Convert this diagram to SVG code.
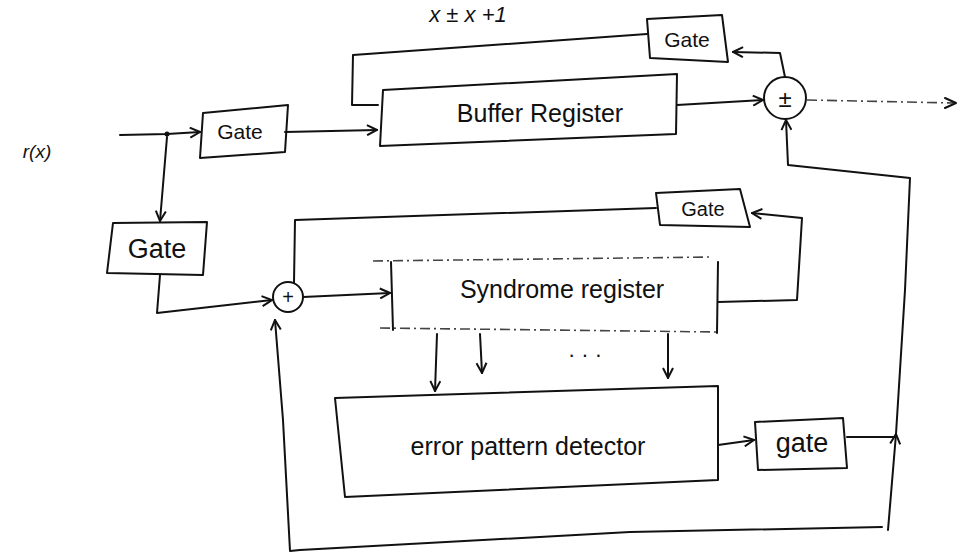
<svg xmlns="http://www.w3.org/2000/svg" width="962" height="554" viewBox="0 0 962 554">
<style>
.box{fill:none;stroke:#111;stroke-width:2;stroke-linejoin:round}
.ln{fill:none;stroke:#111;stroke-width:2;stroke-linecap:round;stroke-linejoin:round}
.faint{fill:none;stroke:#444;stroke-width:1.6;stroke-dasharray:10 4 2 4}
.t{font-family:"Liberation Sans",Arial,sans-serif;fill:#111;text-anchor:middle}
</style>
<defs>
<marker id="ah" viewBox="0 0 12 12" refX="11" refY="6" markerWidth="12" markerHeight="12" markerUnits="userSpaceOnUse" orient="auto">
<path d="M1,1 L11,6 L1,11" fill="none" stroke="#111" stroke-width="2"/>
</marker>
</defs>
<rect width="962" height="554" fill="#fff"/>
<g id="labels">
<text class="t" x="468" y="22" font-size="22" font-style="italic">x ± x +1</text>
<text class="t" x="37" y="158" font-size="19" font-style="italic">r(x)</text>
</g>
<g id="gate1">
<polygon class="box" points="203,113 288,105 285,152 200,158"/>
<text class="t" x="240" y="139" font-size="21">Gate</text>
</g>
<g id="buffer">
<polygon class="box" points="383,90 677,74 676,134 380,146"/>
<text class="t" x="540" y="122" font-size="25">Buffer Register</text>
</g>
<g id="gate2">
<polygon class="box" points="647,19 722,15 728,62 650,58"/>
<text class="t" x="687" y="47" font-size="21">Gate</text>
</g>
<g id="sum1">
<circle cx="785" cy="98" r="21" fill="none" stroke="#111" stroke-width="2"/>
<text class="t" x="785" y="107" font-size="24">±</text>
</g>
<g id="gate3">
<polygon class="box" points="113,223 207,222 203,275 107,273"/>
<text class="t" x="157" y="258" font-size="27">Gate</text>
</g>
<g id="sum2">
<circle cx="288" cy="297" r="15" fill="none" stroke="#111" stroke-width="2"/>
<text class="t" x="288" y="304" font-size="20">+</text>
</g>
<g id="syndrome">
<path class="ln" d="M391,262 L393,330 M718,262 L717,333"/>
<path class="faint" d="M373,261 L713,257 M380,328 L717,332"/>
<text class="t" x="562" y="298" font-size="25">Syndrome register</text>
</g>
<g id="gate4">
<polygon class="box" points="656,193 740,189 750,227 660,225"/>
<text class="t" x="703" y="216" font-size="20">Gate</text>
</g>
<g id="detector">
<polygon class="box" points="335,398 718,386 718,480 345,497"/>
<text class="t" x="528" y="455" font-size="25">error pattern detector</text>
<text class="t" x="585" y="362" font-size="22">· · ·</text>
</g>
<g id="gate5">
<polygon class="box" points="755,422 843,418 847,468 758,470"/>
<text class="t" x="802" y="452" font-size="27">gate</text>
</g>
<g id="connectors">
<path class="ln" d="M120,135 L167,134 L200,132" marker-end="url(#ah)"/>
<circle cx="167" cy="134" r="2.5" fill="#111"/>
<path class="ln" d="M285,132 L377,130" marker-end="url(#ah)"/>
<path class="ln" d="M167,137 L160,221" marker-end="url(#ah)"/>
<path class="ln" d="M160,275 L157,313 L272,300" marker-end="url(#ah)"/>
<path class="ln" d="M677,105 L763,100" marker-end="url(#ah)"/>
<path class="faint" d="M807,100 L955,103"/>
<path class="ln" d="M945,98 L956,103 L945,108"/>
<path class="ln" d="M785,77 L780,53 L733,52" marker-end="url(#ah)"/>
<path class="ln" d="M647,34 L353,55 L352,105 L378,105"/>
<path class="ln" d="M303,297 L390,293" marker-end="url(#ah)"/>
<path class="ln" d="M294,283 L295,220 L656,208"/>
<path class="ln" d="M718,302 L797,300 L802,218 L752,213" marker-end="url(#ah)"/>
<path class="ln" d="M437,334 L435,391" marker-end="url(#ah)"/>
<path class="ln" d="M480,334 L482,373" marker-end="url(#ah)"/>
<path class="ln" d="M668,334 L668,378" marker-end="url(#ah)"/>
<path class="ln" d="M718,445 L754,440" marker-end="url(#ah)"/>
<path class="ln" d="M847,437 L896,437"/>
<path class="ln" d="M888,530 L896,434" marker-end="url(#ah)"/>
<path class="ln" d="M896,434 L905,290 L910,178 L788,165 L786,120" marker-end="url(#ah)"/>
<path class="ln" d="M882,527 L630,532 L300,550 L290,551 L283,420 L275,320" marker-end="url(#ah)"/>
</g>
</svg>
